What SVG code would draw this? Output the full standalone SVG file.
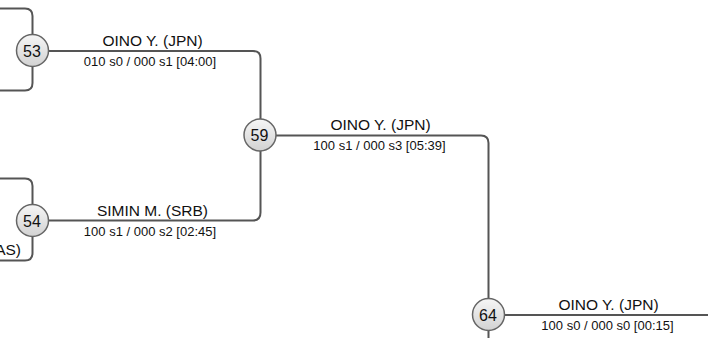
<svg xmlns="http://www.w3.org/2000/svg" width="708" height="338" viewBox="0 0 708 338">
<defs>
<linearGradient id="g" x1="0" y1="0" x2="0" y2="1">
<stop offset="0" stop-color="#f6f6f6"/>
<stop offset="1" stop-color="#d2d2d2"/>
</linearGradient>
<style>
.ln{fill:none;stroke:#555;stroke-width:2}
.nd{fill:url(#g);stroke:#666;stroke-width:1.5}
.num{font-family:"Liberation Sans",Arial,sans-serif;font-size:16px;fill:#111;text-anchor:middle}
.nm{font-family:"Liberation Sans",Arial,sans-serif;font-size:15.5px;fill:#111;text-anchor:middle}
.sc{font-family:"Liberation Sans",Arial,sans-serif;font-size:13px;fill:#111;text-anchor:middle}
</style>
</defs>
<rect width="708" height="338" fill="#fff"/>
<g id="connectors">
<path class="ln" d="M0 8.5 H25 Q32.5 8.5 32.5 16 V83 Q32.5 90.5 25 90.5 H0"/>
<path class="ln" d="M0 178.5 H25 Q32.5 178.5 32.5 186 V253 Q32.5 260.5 25 260.5 H0"/>
<path class="ln" d="M32.5 51 H253 Q260.5 51 260.5 58.5 V212.5 Q260.5 220.5 253 220.5 H32.5"/>
<path class="ln" d="M260.5 135.5 H481 Q488.5 135.5 488.5 143 V338"/>
<path class="ln" d="M488.5 315 H708"/>
</g>
<g id="label-prev"><text class="nm" x="21" y="255" style="text-anchor:end">AS)</text></g>
<g id="node-53">
<circle class="nd" cx="32.5" cy="50.5" r="16"/>
<text class="num" x="32" y="56.5">53</text>
</g>
<g id="label-53">
<text class="nm" x="152.5" y="46">OINO Y. (JPN)</text>
<text class="sc" x="150" y="65.5">010 s0 / 000 s1 [04:00]</text>
</g>
<g id="node-54">
<circle class="nd" cx="32.5" cy="220.5" r="16"/>
<text class="num" x="32" y="226.5">54</text>
</g>
<g id="label-54">
<text class="nm" x="152.5" y="216">SIMIN M. (SRB)</text>
<text class="sc" x="150" y="235.5">100 s1 / 000 s2 [02:45]</text>
</g>
<g id="node-59">
<circle class="nd" cx="260" cy="135" r="16"/>
<text class="num" x="259.5" y="141">59</text>
</g>
<g id="label-59">
<text class="nm" x="380.5" y="130">OINO Y. (JPN)</text>
<text class="sc" x="379.5" y="150">100 s1 / 000 s3 [05:39]</text>
</g>
<g id="node-64">
<circle class="nd" cx="488.5" cy="314.5" r="16"/>
<text class="num" x="488" y="320.5">64</text>
</g>
<g id="label-64">
<text class="nm" x="608.5" y="310">OINO Y. (JPN)</text>
<text class="sc" x="607.5" y="330">100 s0 / 000 s0 [00:15]</text>
</g>
</svg>
